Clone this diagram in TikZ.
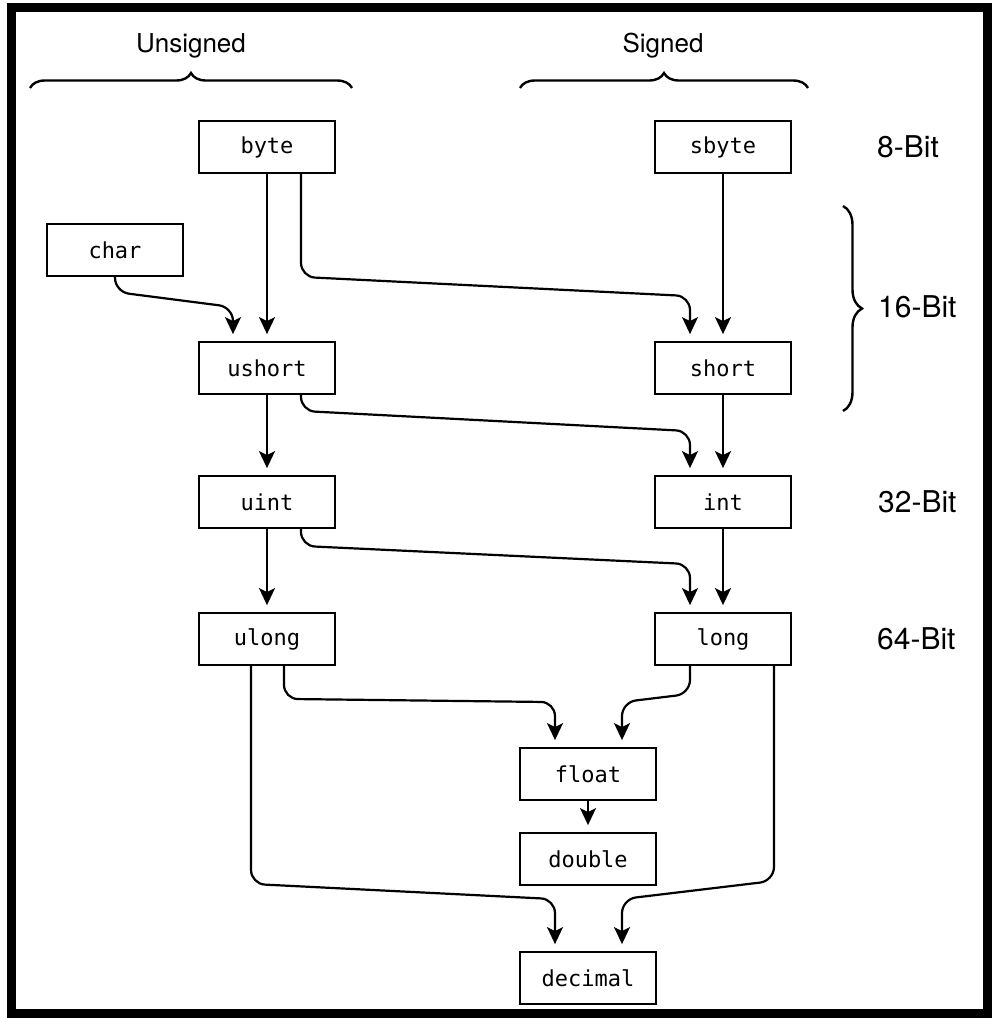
\documentclass[tikz,border=0pt]{standalone}
\usepackage{fontspec}
\setmainfont{TeX Gyre Heros}
\setmonofont{DejaVu Sans Mono}
\usetikzlibrary{arrows.meta,positioning,decorations.pathreplacing}

\begin{document}
\begin{tikzpicture}[
  x=1pt, y=-1pt,
  type/.style={draw, line width=1.8pt, minimum width=136pt, minimum height=52pt, inner sep=0pt, font=\fontsize{22}{26}\selectfont\ttfamily},
  head/.style={inner sep=0pt, font=\fontsize{26}{30}\selectfont},
  bits/.style={anchor=west, inner sep=0pt, font=\fontsize{30}{34}\selectfont},
  arrow/.style={-{Stealth[length=17pt, width=16pt, inset=4pt]}, line width=2.2pt, shorten >=7pt, rounded corners=14pt},
  brace/.style={decorate, decoration={brace, amplitude=15pt}, line width=2.4pt}
]
\useasboundingbox (0,0) rectangle (992,1018);
\draw[line width=9pt] (11,7.5) rectangle (987.5,1013);

% headings
\node[head] (unsg) at (191,46) {Unsigned};
\node[head] (sgn) at (663,46) {Signed};
\draw[brace] (30,88) -- (352,88);
\draw[brace] (520,88) -- (808,88);

% bit sizes
\node[bits] (b8) at (877,147) {8-Bit};
\node[bits] (b16) at (878,307) {16-Bit};
\node[bits] (b32) at (878,502) {32-Bit};
\node[bits] (b64) at (877,639) {64-Bit};
\draw[brace, decoration={amplitude=19pt}] (843,206) -- (843,411);

% types
\node[type] (byte) at (267,147) {byte};
\node[type] (sbyte) at (723,147) {sbyte};
\node[type] (char) at (115,250) {char};
\node[type] (ushort) at (267,368) {ushort};
\node[type] (short) at (723,368) {short};
\node[type] (uint) at (267,502) {uint};
\node[type] (int) at (723,502) {int};
\node[type] (ulong) at (267,639) {ulong};
\node[type] (long) at (723,639) {long};
\node[type] (float) at (588,774) {float};
\node[type] (double) at (588,859) {double};
\node[type] (decimal) at (588,978) {decimal};

% straight conversions
\draw[arrow] (byte) -- (ushort);
\draw[arrow] (sbyte) -- (short);
\draw[arrow] (ushort) -- (uint);
\draw[arrow] (short) -- (int);
\draw[arrow] (uint) -- (ulong);
\draw[arrow] (int) -- (long);
\draw[arrow] (float) -- (double);

% crossing conversions
\draw[arrow] (char.south) -- ++(0,15) -- ([xshift=-34pt,yshift=34pt]ushort.north) -- ([xshift=-34pt]ushort.north);
\draw[arrow] ([xshift=34pt]byte.south) -- ++(0,103) -- ([xshift=-33pt,yshift=45pt]short.north) -- ([xshift=-33pt]short.north);
\draw[arrow] ([xshift=34pt]ushort.south) -- ++(0,16) -- ([xshift=-33pt,yshift=44pt]int.north) -- ([xshift=-33pt]int.north);
\draw[arrow] ([xshift=34pt]uint.south) -- ++(0,17) -- ([xshift=-33pt,yshift=48pt]long.north) -- ([xshift=-33pt]long.north);
\draw[arrow] ([xshift=17pt]ulong.south) -- ++(0,33) -- ([xshift=-33pt,yshift=45pt]float.north) -- ([xshift=-33pt]float.north);
\draw[arrow] ([xshift=-33pt]long.south) -- ++(0,28) -- ([xshift=34pt,yshift=45pt]float.north) -- ([xshift=34pt]float.north);
\draw[arrow] ([xshift=-16pt]ulong.south) -- ++(0,218) -- ([xshift=-33pt,yshift=52pt]decimal.north) -- ([xshift=-33pt]decimal.north);
\draw[arrow] ([xshift=51pt]long.south) -- ++(0,215) -- ([xshift=34pt,yshift=52pt]decimal.north) -- ([xshift=34pt]decimal.north);
\end{tikzpicture}
\end{document}
